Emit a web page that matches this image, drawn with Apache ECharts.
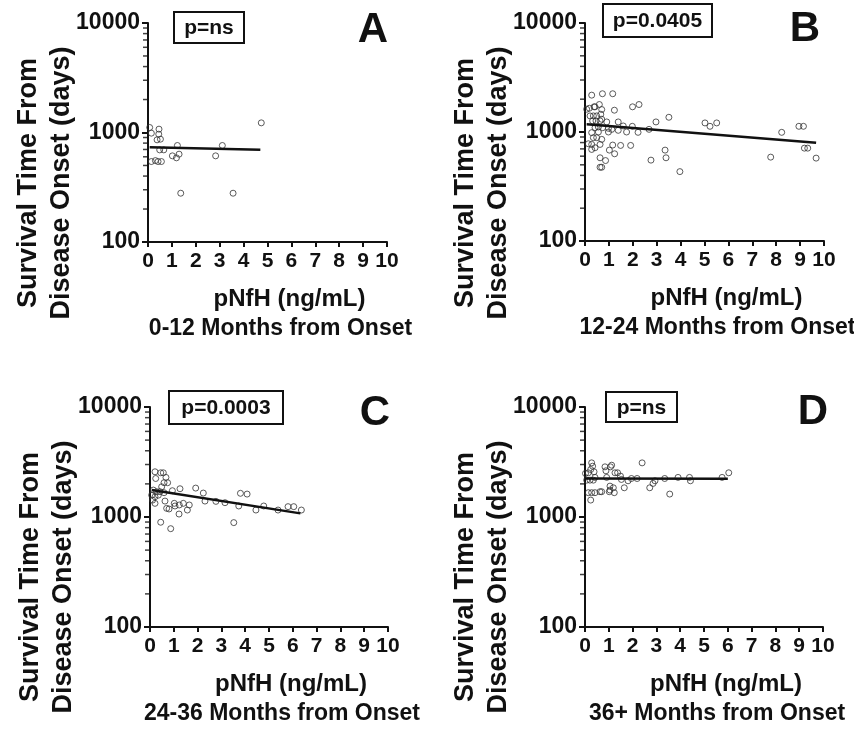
<!DOCTYPE html>
<html>
<head>
<meta charset="utf-8">
<script src="https://cdn.jsdelivr.net/npm/echarts@6/dist/echarts.min.js"></script>
<style>
  html, body { margin: 0; padding: 0; background: #fff; }
  #chart { width: 854px; height: 733px; }
</style>
</head>
<body>
<div id="chart"></div>
<script>
// pNfH (ng/mL) vs survival time (days)
const panelA = [
    [0.07, 1111], [0.14, 986], [0.46, 1073], [0.45, 965], [0.38, 857], [0.52, 869],
    [0.49, 694], [0.66, 694], [0.14, 543], [0.31, 554], [0.42, 543], [0.56, 543],
    [1.02, 612], [1.19, 587], [1.30, 634], [1.23, 761], [1.37, 279], [2.83, 612],
    [3.11, 761], [3.56, 279], [4.74, 1225]
];
const panelB = [
    [0.07, 1618], [0.18, 1652], [0.28, 2178], [0.38, 1702], [0.42, 1702], [0.60, 1787],
    [0.73, 2244], [1.16, 2244], [0.70, 1607], [1.23, 1585], [0.21, 1405], [0.35, 1405],
    [0.49, 1405], [0.66, 1456], [0.32, 1264], [0.46, 1264], [0.63, 1264], [0.91, 1237],
    [0.70, 1309], [0.42, 1096], [0.56, 1112], [0.74, 1096], [0.98, 1081], [1.12, 1058],
    [1.39, 1237], [1.60, 1136], [1.39, 1036], [1.74, 1000], [1.99, 1702], [2.26, 1787],
    [1.98, 1128], [2.22, 993], [2.68, 1058], [2.97, 1237], [3.51, 1365], [0.28, 986],
    [0.56, 1000], [0.98, 1000], [0.35, 887], [0.49, 887], [0.70, 856], [0.14, 780],
    [0.28, 769], [0.63, 769], [0.42, 717], [0.28, 692], [1.16, 759], [1.49, 753],
    [1.91, 753], [1.02, 682], [1.24, 631], [0.63, 580], [0.86, 547], [0.70, 475],
    [0.63, 475], [2.76, 552], [3.35, 682], [3.39, 580], [3.97, 433], [5.02, 1211],
    [5.23, 1128], [5.51, 1211], [7.77, 588], [8.23, 993], [8.95, 1128], [9.14, 1128],
    [9.18, 711], [9.32, 711], [9.67, 576]
];
const panelC = [
    [0.21, 2576], [0.45, 2523], [0.56, 2523], [0.24, 2239], [0.67, 2290], [0.59, 2049],
    [0.74, 2049], [0.49, 1882], [0.14, 1757], [0.28, 1698], [0.42, 1698], [0.59, 1663],
    [0.94, 1734], [1.26, 1807], [1.92, 1832], [2.24, 1651], [0.07, 1580], [0.21, 1527],
    [0.35, 1580], [0.11, 1425], [0.63, 1396], [0.21, 1331], [0.70, 1199], [0.80, 1183],
    [1.02, 1331], [1.05, 1259], [1.23, 1286], [1.40, 1331], [1.65, 1286], [1.57, 1157],
    [1.22, 1064], [2.31, 1396], [2.77, 1387], [3.15, 1349], [3.80, 1642], [4.08, 1616],
    [3.73, 1259], [4.78, 1259], [4.45, 1157], [5.38, 1157], [5.80, 1242], [6.04, 1242],
    [6.36, 1157], [0.45, 896], [0.87, 783], [3.52, 889]
];
const panelD = [
    [0.02, 2489], [0.14, 2523], [0.28, 3105], [0.32, 2897], [0.24, 2702], [0.38, 2576],
    [0.07, 2163], [0.21, 2163], [0.35, 2163], [0.42, 2290], [0.84, 2858], [1.07, 2858],
    [1.12, 2958], [0.88, 2630], [0.91, 2290], [1.26, 2523], [1.37, 2523], [1.49, 2355],
    [1.53, 2195], [1.81, 2134], [1.95, 2239], [2.19, 2239], [2.40, 3105], [2.72, 1844],
    [2.86, 2019], [2.94, 2134], [3.35, 2239], [3.91, 2290], [4.39, 2290], [4.43, 2134],
    [5.76, 2290], [6.04, 2523], [3.56, 1616], [1.65, 1844], [1.19, 1844], [1.05, 1909],
    [0.14, 1664], [0.28, 1664], [0.42, 1664], [0.63, 1698], [0.70, 1698], [1.02, 1698],
    [1.23, 1664], [0.24, 1425], [1.05, 1757]
];

// regression line end points
const fitA = [[0.07, 735], [4.70, 694]];
const fitB = [[0.07, 1177], [9.67, 797]];
const fitC = [[0.07, 1757], [6.32, 1079]];
const fitD = [[0.00, 2239], [6.00, 2224]];

const pValues = ["p=ns", "p=0.0405", "p=0.0003", "p=ns"];
const letters = ["A", "B", "C", "D"];
const subtitles = [
    "0-12 Months from Onset",
    "12-24 Months from Onset",
    "24-36 Months from Onset",
    "36+ Months from Onset"
];
const minorTicks = [200, 300, 400, 500, 600, 700, 800, 900,
    2000, 3000, 4000, 5000, 6000, 7000, 8000, 9000];

const FONT = '"Liberation Sans", Arial, sans-serif';
const INK = "#111";

// layout of the four panels
const layout = [
    { grid: { left: 148, top: 23, width: 239, height: 219 }, box: [174, 12, 70, 31], letter: [373, 30], yName: [45, 183] },
    { grid: { left: 585, top: 23, width: 239, height: 218 }, box: [603, 4, 109, 33], letter: [805, 29], yName: [482, 183] },
    { grid: { left: 150, top: 407, width: 238, height: 220 }, box: [169, 391, 114, 33], letter: [375, 413], yName: [47, 577] },
    { grid: { left: 585, top: 407, width: 238, height: 220 }, box: [606, 392, 71, 30], letter: [813, 412], yName: [482, 577] }
];
const scatterData = [panelA, panelB, panelC, panelD];
const fitData = [fitA, fitB, fitC, fitD];

let chart = echarts.init(document.getElementById("chart"));

let grids = [];
let xAxes = [];
let yAxes = [];
let series = [];
let graphics = [];

const centerText = (x, y, text, size, extra) => {
    return Object.assign({
        type: "text",
        x: x,
        y: y,
        style: {
            text: text, font: "bold " + size + "px " + FONT, fill: INK,
            align: "center", verticalAlign: "middle",
            textAlign: "center", textVerticalAlign: "middle"
        }
    }, extra || {});
};

for (let i = 0; i < 4; i++) {
    let lay = layout[i];
    grids.push(Object.assign({ outerBoundsMode: "none" }, lay.grid));

    xAxes.push({
        type: "value",
        gridIndex: i,
        min: 0,
        max: 10,
        interval: 1,
        splitLine: { show: false },
        axisLine: { onZero: false, lineStyle: { color: INK, width: 2 } },
        axisTick: { length: 5, lineStyle: { color: INK, width: 2 } },
        axisLabel: { color: INK, fontFamily: FONT, fontWeight: "bold", fontSize: 21, margin: 9 }
    });

    yAxes.push({
        type: "log",
        logBase: 10,
        gridIndex: i,
        min: 100,
        max: 10000,
        splitLine: { show: false },
        axisLine: { onZero: false, lineStyle: { color: INK, width: 2 } },
        axisTick: { length: 6, lineStyle: { color: INK, width: 2 } },
        axisLabel: {
            color: INK, fontFamily: FONT, fontWeight: "bold", fontSize: 23, margin: 8,
            formatter: v => String(Math.round(v))
        }
    });

    series.push({
        type: "scatter",
        xAxisIndex: i,
        yAxisIndex: i,
        data: scatterData[i],
        symbol: "circle",
        symbolSize: 6,
        itemStyle: { color: "rgba(0,0,0,0)", borderColor: "#333", borderWidth: 1 },
        silent: true,
        z: 3
    });

    series.push({
        type: "line",
        xAxisIndex: i,
        yAxisIndex: i,
        data: fitData[i],
        showSymbol: false,
        lineStyle: { color: INK, width: 2.5 },
        silent: true,
        z: 4
    });

    // log-spaced minor ticks (2..9) on the y axis, drawn as short dashes at x = 0
    series.push({
        type: "scatter",
        xAxisIndex: i,
        yAxisIndex: i,
        data: minorTicks.map(v => [0, v]),
        symbol: "rect",
        symbolSize: [4, 1.5],
        symbolOffset: [-3, 0],
        itemStyle: { color: INK },
        clip: false,
        silent: true,
        z: 5
    });

    let g = lay.grid;
    let box = lay.box;

    graphics.push({
        type: "rect",
        shape: { x: box[0], y: box[1], width: box[2], height: box[3] },
        style: { fill: "#fff", stroke: INK, lineWidth: 2 },
        z: 10
    });
    graphics.push(centerText(box[0] + box[2] / 2, box[1] + box[3] / 2 + 1, pValues[i], 21, { z: 11 }));
    graphics.push(centerText(lay.letter[0], lay.letter[1], letters[i], 42, { z: 11 }));
    graphics.push(centerText(g.left + g.width / 2 + 22, g.top + g.height + 57, "pNfH (ng/mL)", 24));
    graphics.push(centerText(g.left + g.width / 2 + 13, g.top + g.height + 87, subtitles[i], 23));

    let yName = centerText(lay.yName[0], lay.yName[1], "Survival Time From\nDisease Onset (days)", 27,
        { rotation: Math.PI / 2 });
    yName.style.lineHeight = 33;
    graphics.push(yName);
}

chart.setOption({
    animation: false,
    backgroundColor: "#fff",
    grid: grids,
    xAxis: xAxes,
    yAxis: yAxes,
    series: series,
    graphic: graphics
});
</script>
</body>
</html>
